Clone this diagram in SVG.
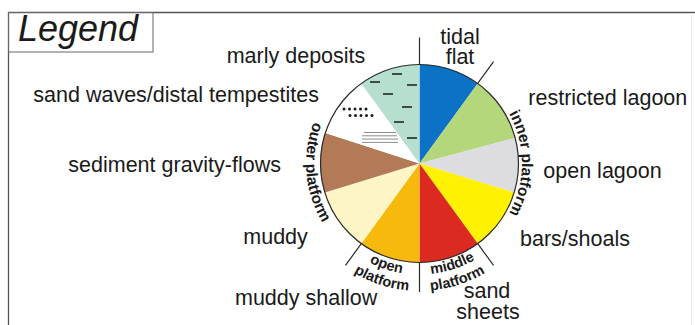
<svg xmlns="http://www.w3.org/2000/svg" width="695" height="325" viewBox="0 0 695 325">
<style>
.lbl{font-family:"Liberation Sans",Arial,sans-serif;font-size:21.5px;fill:#1a1a1a}
.arc{font-family:"Liberation Sans",Arial,sans-serif;font-size:14.5px;font-weight:bold;fill:#1a1a1a}
.arcL{font-size:15.5px}
.frame{stroke:#555;stroke-width:1.3;fill:none}
.tick{stroke:#2a2a2a;stroke-width:1.2;fill:none}
.dash{stroke:#1e2a26;stroke-width:1.6}
.hl{stroke:#8c8c8c;stroke-width:1}
.sec{stroke:none}
</style>
<defs>
<path id="pInner" d="M419.5,61 A102.5,102.5 0 0 1 419.5,266"/>
<path id="pOuter" d="M409.61,50.43 A113.5,113.5 0 0 0 429.39,276.57"/>
<path id="pOpen1" d="M313.93,129.2 A111,111 0 0 0 525.07,197.8"/>
<path id="pOpen2" d="M298.24,124.1 A127.5,127.5 0 0 0 540.76,202.9"/>
<path id="pMid1" d="M313.93,197.8 A111,111 0 0 0 525.07,129.2"/>
<path id="pMid2" d="M298.24,202.9 A127.5,127.5 0 0 0 540.76,124.1"/>
</defs>
<rect width="695" height="325" fill="#ffffff"/>
<g id="frame">
<path class="frame" d="M8,12.5 H695 M8.5,12 V325"/>
<path d="M691.5,13 V325" stroke="#ececec" stroke-width="1" fill="none"/>
<rect x="8.5" y="12.5" width="144.5" height="39.5" fill="none" stroke="#666" stroke-width="1"/>
<text x="18" y="40.5" font-family="Liberation Sans,Arial,sans-serif" font-size="36" font-style="italic" fill="#1a1a1a">Legend</text>
</g>
<g id="pie">
<path id="s-tidal" class="sec" fill="#0b72c6" d="M419.5,163.5 L419.5,64.5 A99,99 0 0 1 477.69,83.41 Z"/>
<path id="s-restricted" class="sec" fill="#b4d77b" d="M419.5,163.5 L477.69,83.41 A99,99 0 0 1 515.13,137.88 Z"/>
<path id="s-openlagoon" class="sec" fill="#dddce1" d="M419.5,163.5 L515.13,137.88 A99,99 0 0 1 514.17,192.45 Z"/>
<path id="s-bars" class="sec" fill="#fff200" d="M419.5,163.5 L514.17,192.45 A99,99 0 0 1 477.69,243.59 Z"/>
<path id="s-sand" class="sec" fill="#dd2a20" d="M419.5,163.5 L477.69,243.59 A99,99 0 0 1 419.5,262.5 Z"/>
<path id="s-muddyshallow" class="sec" fill="#f6b90c" d="M419.5,163.5 L419.5,262.5 A99,99 0 0 1 361.31,243.59 Z"/>
<path id="s-muddy" class="sec" fill="#fdf5c6" d="M419.5,163.5 L361.31,243.59 A99,99 0 0 1 324.83,192.45 Z"/>
<path id="s-gravity" class="sec" fill="#b27a57" d="M419.5,163.5 L324.83,192.45 A99,99 0 0 1 325.34,132.91 Z"/>
<path id="s-sandwaves" class="sec" fill="#ffffff" d="M419.5,163.5 L325.34,132.91 A99,99 0 0 1 361.31,83.41 Z"/>
<path id="s-marly" class="sec" fill="#b7dfd0" d="M419.5,163.5 L361.31,83.41 A99,99 0 0 1 419.5,64.5 Z"/>
<g id="marly-pattern">
<line class="dash" x1="392" y1="74" x2="402" y2="74"/>
<line class="dash" x1="370" y1="82" x2="380" y2="82"/>
<line class="dash" x1="407" y1="85" x2="417" y2="85"/>
<line class="dash" x1="383" y1="94" x2="393" y2="94"/>
<line class="dash" x1="402" y1="107" x2="412" y2="107"/>
<line class="dash" x1="394" y1="122" x2="404" y2="122"/>
<line class="dash" x1="407" y1="138" x2="417" y2="138"/>
</g>
<g id="sandwave-pattern" fill="#1a1a1a">
<circle cx="344" cy="109" r="1.5"/><circle cx="349.5" cy="109" r="1.5"/><circle cx="355" cy="109" r="1.5"/><circle cx="360.5" cy="109" r="1.5"/><circle cx="366" cy="109" r="1.5"/>
<circle cx="350" cy="115.5" r="1.5"/><circle cx="355.5" cy="115.5" r="1.5"/><circle cx="361" cy="115.5" r="1.5"/><circle cx="366.5" cy="115.5" r="1.5"/><circle cx="372" cy="115.5" r="1.5"/>
<line class="hl" x1="364" y1="132.5" x2="396" y2="132.5"/>
<line class="hl" x1="362" y1="135.8" x2="397" y2="135.8"/>
<line class="hl" x1="362" y1="139.1" x2="398" y2="139.1"/>
<line class="hl" x1="362" y1="142.4" x2="398" y2="142.4"/>
</g>
<circle cx="419.5" cy="163.5" r="99" fill="none" stroke="#2a2a2a" stroke-width="1.2"/>
</g>
<g id="connectors">
<line class="tick" x1="419.5" y1="64.5" x2="419.5" y2="37.5"/>
<line class="tick" x1="477.69" y1="83.41" x2="493.56" y2="61.57"/>
<line class="tick" x1="477.69" y1="243.59" x2="493.56" y2="265.43"/>
<line class="tick" x1="419.5" y1="262.5" x2="419.5" y2="292"/>
<line class="tick" x1="361.31" y1="243.59" x2="345.44" y2="265.43"/>
</g>
<g id="arc-labels">
<text class="arc arcL"><textPath href="#pInner" startOffset="50%" text-anchor="middle">inner platform</textPath></text>
<text class="arc arcL"><textPath href="#pOuter" startOffset="50%" text-anchor="middle">outer platform</textPath></text>
<text class="arc"><textPath href="#pOpen1" startOffset="50%" text-anchor="middle">open</textPath></text>
<text class="arc"><textPath href="#pOpen2" startOffset="50%" text-anchor="middle">platform</textPath></text>
<text class="arc"><textPath href="#pMid1" startOffset="50%" text-anchor="middle">middle</textPath></text>
<text class="arc"><textPath href="#pMid2" startOffset="50%" text-anchor="middle">platform</textPath></text>
</g>
<g id="labels">
<text class="lbl" x="226.7" y="62.5">marly deposits</text>
<text class="lbl" x="460" y="43.5" text-anchor="middle">tidal</text>
<text class="lbl" x="460" y="63.5" text-anchor="middle">flat</text>
<text class="lbl" x="528.3" y="105">restricted lagoon</text>
<text class="lbl" x="33.3" y="101.7">sand waves/distal tempestites</text>
<text class="lbl" x="68.3" y="171.7">sediment gravity-flows</text>
<text class="lbl" x="543.3" y="178.3">open lagoon</text>
<text class="lbl" x="243.3" y="243.5">muddy</text>
<text class="lbl" x="520" y="245.7">bars/shoals</text>
<text class="lbl" x="235" y="305">muddy shallow</text>
<text class="lbl" x="487" y="297.5" text-anchor="middle">sand</text>
<text class="lbl" x="488" y="318.5" text-anchor="middle">sheets</text>
</g>
</svg>
